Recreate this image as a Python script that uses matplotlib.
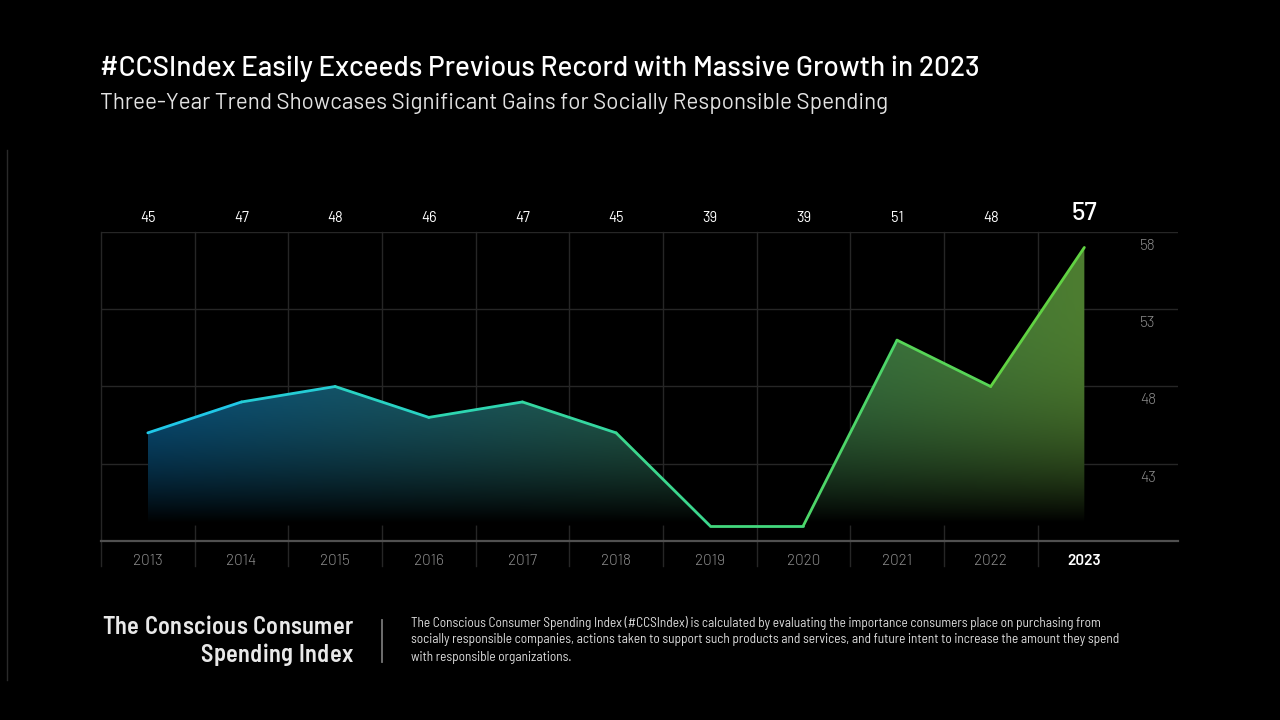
import numpy as np
import matplotlib
matplotlib.use('Agg')
import matplotlib.pyplot as plt
from matplotlib.colors import LinearSegmentedColormap
from matplotlib.collections import LineCollection
from matplotlib import transforms
from matplotlib.lines import Line2D
from matplotlib.font_manager import FontProperties
from matplotlib.textpath import TextToPath

# ---------------- data ----------------
years = ["2013", "2014", "2015", "2016", "2017", "2018", "2019", "2020", "2021", "2022", "2023"]
values = [45, 47, 48, 46, 47, 45, 39, 39, 51, 48, 57]
y_ticks = [43, 48, 53, 58]

title = "#CCSIndex Easily Exceeds Previous Record with Massive Growth in 2023"
subtitle = "Three-Year Trend Showcases Significant Gains for Socially Responsible Spending"
footer_head = ["The Conscious Consumer", "Spending Index"]
footer_text = ["The Conscious Consumer Spending Index (#CCSIndex) is calculated by evaluating the importance consumers place on purchasing from",
               "socially responsible companies, actions taken to support such products and services, and future intent to increase the amount they spend",
               "with responsible organizations."]

# ---------------- style ----------------
BG = "#000000"
GRID = "#262626"
line_cmap = LinearSegmentedColormap.from_list(
    "line", ["#1ec6f0", "#2dd6b4", "#44d87a", "#66d23a"])
fill_cmap = LinearSegmentedColormap.from_list(
    "fill", ["#0a5886", "#1d5f66", "#2f6b44", "#4d7d30"])

W, H = 1280, 720
fig = plt.figure(figsize=(W / 100, H / 100), dpi=100, facecolor=BG)

def px(x, y):
    return x / W, 1 - y / H

L, R, T, B = 101, 1178, 232, 541
ax = fig.add_axes([L / W, 1 - B / H, (R - L) / W, (B - T) / H])
ax.set_facecolor(BG)
n = len(values)
x = np.arange(n)
ax.set_xlim(-0.5, n)
ax.set_ylim(38, 58)
for s in ax.spines.values():
    s.set_visible(False)
ax.set_xticks([])
ax.set_yticks([])

# horizontal grid
for yv in y_ticks:
    ax.axhline(yv, color=GRID, lw=1.0, zorder=1)
ax.axhline(38, color="#505050", lw=1.6, zorder=4, clip_on=False)

# vertical grid (extending below axis)
trans_xa = transforms.blended_transform_factory(ax.transData, ax.transAxes)
ext = -25 / (B - T)
for xv in np.arange(-0.5, n - 0.5, 1.0):
    ax.add_line(Line2D([xv, xv], [ext, 1], transform=trans_xa, color=GRID,
                       lw=1.0, zorder=1, clip_on=False))

# gradient fill clipped by the area polygon
base = min(values)
poly = ax.fill_between(x, values, base, facecolor="none", edgecolor="none")
nx, ny = 400, 400
gx = np.linspace(0, 1, nx)
gy = np.linspace(58, base, ny)
cols = fill_cmap(gx)[:, :3]
t = np.clip((gy - (base + 0.2)) / (56 - (base + 0.2)), 0, 1)
fade = 1 - (1 - t) ** 3
img = cols[None, :, :] * fade[:, None, None]
im = ax.imshow(img, extent=[0, n - 1, base, 58], aspect="auto", zorder=2,
               interpolation="bilinear")
im.set_clip_path(poly.get_paths()[0], transform=ax.transData)

# line with per-segment gradient colour
pts = np.column_stack([x, values])
segs = np.stack([pts[:-1], pts[1:]], axis=1)
seg_cols = line_cmap((x[:-1] + 0.5) / (n - 1))
lc = LineCollection(segs, colors=seg_cols, linewidths=2.0, zorder=3,
                    capstyle="round", joinstyle="round")
ax.add_collection(lc)

# value labels above the plot
for i, v in enumerate(values):
    if i == n - 1:
        ax.text(i, 1 + 18 / (B - T), str(v), transform=trans_xa, ha="center", va="center",
                color="white", fontsize=18.5, family="Barlow", fontweight=500)
    else:
        ax.text(i, 1 + 14 / (B - T), str(v), transform=trans_xa, ha="center", va="center",
                color="white", fontsize=10.5, family="Barlow", fontweight=400)

# year labels
for i, yl in enumerate(years):
    last = i == n - 1
    ax.text(i, -20 / (B - T), yl, transform=trans_xa, ha="center", va="center",
            color="white" if last else "#8c8c8c", fontsize=11, family="Barlow",
            fontweight=600 if last else 300)

# right-side y labels (below gridlines)
trans_ay = transforms.blended_transform_factory(ax.transAxes, ax.transData)
off = transforms.ScaledTranslation(0, -14 / 100, fig.dpi_scale_trans)
for yv in y_ticks:
    ax.text((1140 - L) / (R - L), yv, str(yv), transform=trans_ay + off,
            ha="left", va="center", color="#8c8c8c", fontsize=11,
            family="Barlow", fontweight=300)

# titles
fig.text(*px(100, 69), title, ha="left", va="center", color="white",
         fontsize=20.1, family="Barlow", fontweight=500)
fig.text(*px(100, 103), subtitle, ha="left", va="center", color="#e2e2e2",
         fontsize=16.2, family="Barlow", fontweight=400)

# footer heading with letter spacing, right aligned
ttp = TextToPath()
head_prop = FontProperties(family="Barlow Semi Condensed", weight=600, size=17.5)

def char_widths(s):
    return [ttp.get_text_width_height_descent(c, head_prop, ismath=False)[0] * 100 / 72 for c in s]

track_px = (251 - sum(char_widths(footer_head[0]))) / (len(footer_head[0]) - 1)
for line, ypos in zip(footer_head, [628, 655]):
    widths = char_widths(line)
    total = sum(widths) + track_px * (len(line) - 1)
    xpos = 353 - total
    for ch, w in zip(line, widths):
        fig.text(*px(xpos, ypos), ch, ha="left", va="center", color="#e8e8e8",
                 fontproperties=head_prop)
        xpos += w + track_px

fig.add_artist(Line2D([382 / W, 382 / W], [1 - 620 / H, 1 - 662 / H],
                      transform=fig.transFigure, color="#777777", lw=1.3))
for line, ypos in zip(footer_text, [623, 640, 657]):
    fig.text(*px(411, ypos), line, ha="left", va="center", color="#dcdcdc",
             fontsize=9.6, family="Barlow Semi Condensed", fontweight=400)

# faint left edge line
fig.add_artist(Line2D([7 / W, 7 / W], [1 - 150 / H, 1 - 680 / H],
                      transform=fig.transFigure, color="#2a2a2a", lw=1.0))

fig.savefig("out.png", dpi=100, facecolor=BG)
